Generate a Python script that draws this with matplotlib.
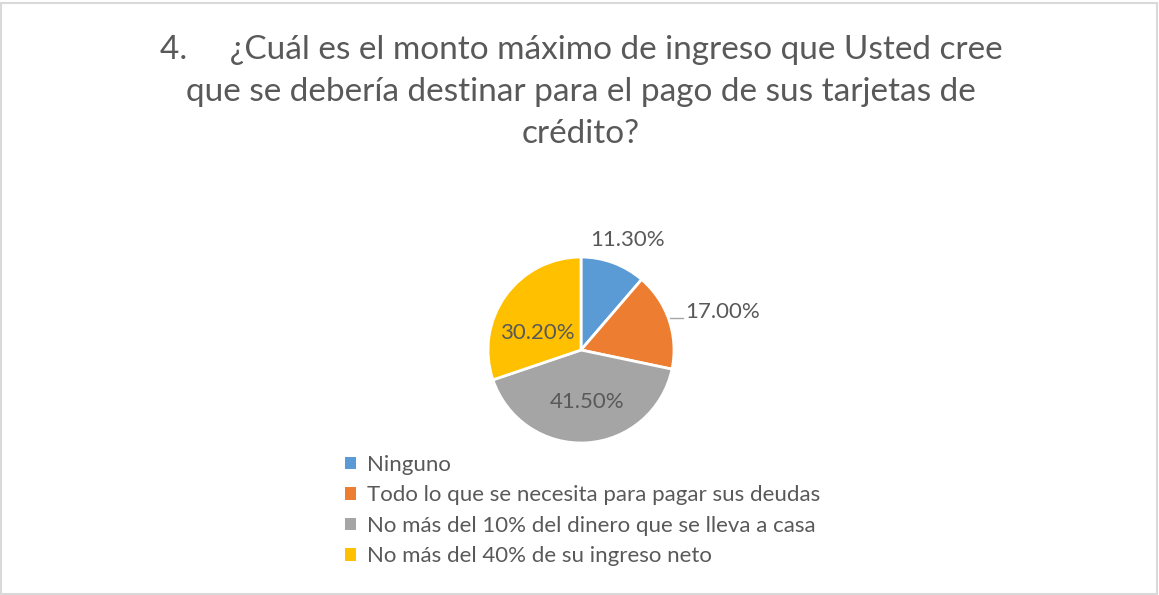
import numpy as np
import matplotlib
matplotlib.use('Agg')
import matplotlib.pyplot as plt
from matplotlib.patches import Rectangle

# chart data
categories = [
    'Ninguno',
    'Todo lo que se necesita para pagar sus deudas',
    'No más del 10% del dinero que se lleva a casa',
    'No más del 40% de su ingreso neto',
]
shares = [11.3, 17.0, 41.5, 30.2]
colors = ['#5B9BD5', '#ED7D31', '#A5A5A5', '#FFC000']
title = ('4.     ¿Cuál es el monto máximo de ingreso que Usted cree\n'
         'que se debería destinar para el pago de sus tarjetas de\n'
         'crédito?')

TEXT = '#595959'
W, H = 1159, 595
plt.rcParams['font.family'] = ['Lato', 'DejaVu Sans']

fig = plt.figure(figsize=(W / 100, H / 100), dpi=100)
fig.patches.append(Rectangle((1.5 / W, 1.5 / H), 1 - 4 / W, 1 - 4 / H,
                             transform=fig.transFigure, fill=False,
                             edgecolor='#D9D9D9', linewidth=1.5))

fig.text(581 / W, 1 - 92 / H, title, ha='center', va='center',
         fontsize=24, color=TEXT, linespacing=1.5)

# pie axes: centre (581, 350), radius 93 px
cx, cy, r = 581, 350, 93
ax = fig.add_axes([(cx - 2 * r) / W, 1 - (cy + 2 * r) / H, 4 * r / W, 4 * r / H])

wedges, _, autotexts = ax.pie(
    shares, colors=colors, startangle=90, counterclock=False, radius=1,
    autopct=lambda p: f'{p:.2f}%', pctdistance=0.56,
    wedgeprops={'edgecolor': 'white', 'linewidth': 2},
    textprops={'fontsize': 16, 'color': TEXT})
ax.set_xlim(-2, 2)
ax.set_ylim(-2, 2)
ax.axis('off')

# label placement as in the original chart
autotexts[0].set_position((0.50, 1.18))
autotexts[1].set_position((1.12, 0.41))
autotexts[1].set_ha('left')
autotexts[2].set_position((0.07, -0.56))
autotexts[3].set_position((-0.47, 0.18))
ax.plot([0.96, 1.1], [0.34, 0.34], color='#A6A6A6', linewidth=1)

handles = [Rectangle((0, 0), 1, 1, facecolor=c) for c in colors]
fig.legend(handles, categories, loc='upper left',
           bbox_to_anchor=(345 / W, 1 - 455 / H), frameon=False,
           fontsize=16, labelcolor=TEXT, handlelength=0.5,
           handleheight=0.5, handletextpad=0.5, labelspacing=0.47,
           borderpad=0, borderaxespad=0)

fig.savefig('out.png', dpi=100)
